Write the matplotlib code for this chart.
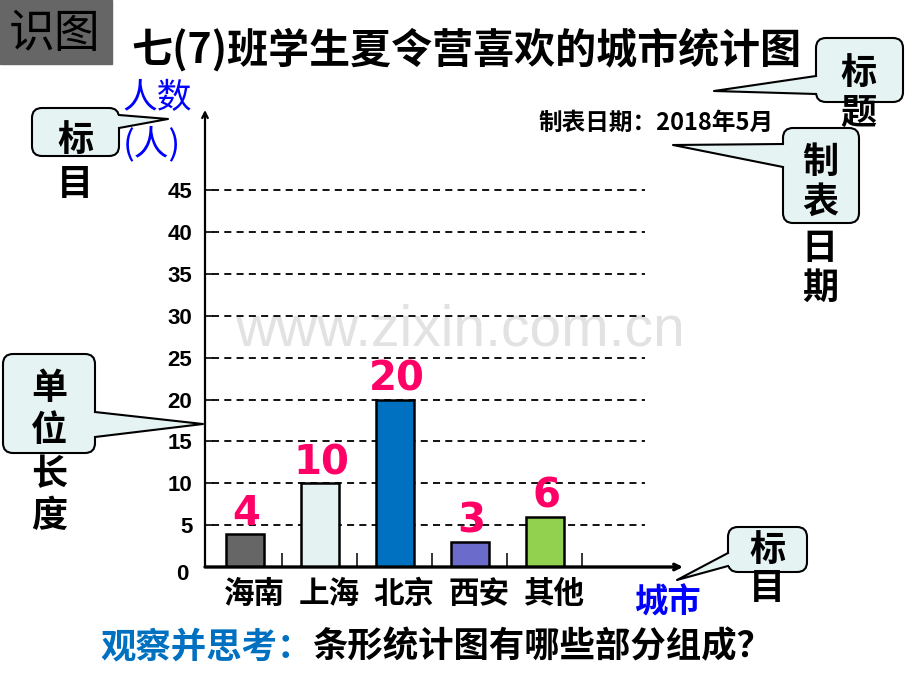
import matplotlib.pyplot as plt
from matplotlib.patches import FancyBboxPatch, Polygon, Rectangle
from matplotlib.transforms import ScaledTranslation

plt.rcParams['font.family'] = ['Noto Sans CJK SC', 'DejaVu Sans']

cities = ['海南', '上海', '北京', '西安', '其他']
counts = [4, 10, 20, 3, 6]
bar_colors = ['#666666', '#E4F2F2', '#0070C0', '#6B6BCC', '#92D050']
y_ticks = [0, 5, 10, 15, 20, 25, 30, 35, 40, 45]

title = '七(7)班学生夏令营喜欢的城市统计图'
date_note = '制表日期：2018年5月'
y_name = ['人数', '(人)']
x_name = '城市'
question_a = '观察并思考：'
question_b = '条形统计图有哪些部分组成？'

W, H = 920, 690
fig = plt.figure(figsize=(9.2, 6.9), dpi=100)

# slide decorations, drawn in pixel coordinates
deco = fig.add_axes([0, 0, 1, 1], zorder=0)
deco.set_xlim(0, W)
deco.set_ylim(H, 0)
deco.axis('off')

# the chart itself
ax = fig.add_axes([205 / W, 1 - 567 / H, (683 - 205) / W, (567 - 110) / H], zorder=1)
ax.patch.set_alpha(0)
px_per_unit = 376.7 / 45
ax.set_ylim(0, (567 - 110) / px_per_unit)
ax.set_xlim((205 - 245) / 75, (683 - 245) / 75)
for s in ax.spines.values():
    s.set_visible(False)

x = list(range(len(cities)))
ax.hlines(y_ticks[1:], -0.44, 5.33, colors='black', linestyles=(0, (3.9, 2.9)),
          linewidth=1.3, zorder=1)
ax.bar(x, counts, width=0.5, color=bar_colors, edgecolor='black', linewidth=1.8, zorder=3)
for i, v in zip(x, counts):
    ax.annotate(str(v), (i, v), xytext=(1, 0), textcoords='offset points',
                ha='center', va='bottom', color='#FF0066', fontsize=29,
                fontweight='bold', family='DejaVu Sans', zorder=4)

# axes with arrows
ax.annotate('', xy=(0, 1), xytext=(0, 0), xycoords='axes fraction',
            arrowprops=dict(arrowstyle='->', lw=1.6, color='black',
                            shrinkA=0, shrinkB=0), zorder=5)
ax.annotate('', xy=(1, 0), xytext=(0, 0), xycoords='axes fraction',
            arrowprops=dict(arrowstyle='->', lw=2.4, color='black',
                            shrinkA=0, shrinkB=0), zorder=5)

ax.set_yticks(y_ticks, labels=[str(v) for v in y_ticks], fontsize=16,
              fontweight='bold', family='Liberation Sans')
ax.tick_params(axis='y', direction='in', length=6, width=1.2, pad=9)
lbl0 = ax.get_yticklabels()[0]
lbl0.set_transform(lbl0.get_transform() + ScaledTranslation(-0.04, -0.05, fig.dpi_scale_trans))

ax.set_xticks(x, labels=cities, fontsize=22, fontweight='bold')
ax.set_xticks([i + 0.5 for i in x], minor=True)
ax.tick_params(axis='x', which='major', length=0, pad=8)
ax.tick_params(axis='x', which='minor', direction='in', length=10, width=1.1)
for lbl in ax.get_xticklabels():
    lbl.set_transform(lbl.get_transform() + ScaledTranslation(0.09, 0, fig.dpi_scale_trans))

# slide texts
deco.add_patch(Rectangle((0, 0), 112, 64, color='#666666', zorder=1))
deco.text(55, 34, '识图', fontsize=33, ha='center', va='center', color='black')
deco.text(466, 50, title, fontsize=29.5, fontweight='bold', ha='center', va='center')
deco.text(539, 123, date_note, fontsize=17, fontweight='bold', ha='left', va='center')
deco.text(157, 99, y_name[0], fontsize=25, color='#0000FF', ha='center', va='center')
deco.text(152, 144, y_name[1], fontsize=25, color='#0000FF', ha='center', va='center')
deco.text(667, 603, x_name, fontsize=24, fontweight='bold', color='#0000FF',
          ha='center', va='center')
qa = deco.text(100, 647, question_a, fontsize=25.5, fontweight='bold', color='#0070C0',
               ha='left', va='center')
deco.annotate(question_b, xy=(1, 0.5), xycoords=qa, fontsize=25.5, fontweight='bold',
              color='black', ha='left', va='center')

# watermark
deco.text(460, 330, 'www.zixin.com.cn', fontsize=41, family='Liberation Sans',
          color='#E2E2E2', ha='center', va='center', zorder=0)

# callouts
fill = '#E6F3F3'


def callout(box, base, tip, words):
    x0, y0, x1, y1 = box
    deco.add_patch(FancyBboxPatch((x0, y0), x1 - x0, y1 - y0,
                                  boxstyle='round,pad=0,rounding_size=10',
                                  fc=fill, ec='black', lw=1.5, zorder=2))
    dx = 3 if tip[0] < x0 else -3
    (bx0, by0), (bx1, by1) = base
    deco.add_patch(Polygon([(bx0, by0), tip, (bx1, by1), (bx1 + dx, by1), (bx0 + dx, by0)],
                           closed=True, fc=fill, ec='none', zorder=3))
    deco.plot([bx0, tip[0], bx1], [by0, tip[1], by1], color='black', lw=1.5, zorder=4)
    for wx, wy, w in words:
        deco.text(wx, wy, w, fontsize=26, fontweight='bold', ha='center', va='center', zorder=5)


callout((32, 108, 119, 156), [(119, 115), (119, 128)], (168, 119),
        [(75, 140, '标'), (75, 184, '目')])
callout((816, 38, 903, 102), [(816, 76), (816, 94)], (714, 91),
        [(858, 73, '标'), (858, 113, '题')])
callout((783, 128, 859, 223), [(783, 144), (783, 167)], (673, 145),
        [(820, 162, '制'), (820, 202, '表'), (820, 248, '日'), (820, 288, '期')])
callout((3, 354, 95, 453), [(95, 412), (95, 437)], (203, 424),
        [(49, 388, '单'), (49, 430, '位'), (49, 475, '长'), (49, 517, '度')])
callout((728, 527, 807, 572), [(728, 553), (728, 566)], (677, 580),
        [(767, 550, '标'), (767, 588, '目')])

fig.savefig('out.png', dpi=100)
